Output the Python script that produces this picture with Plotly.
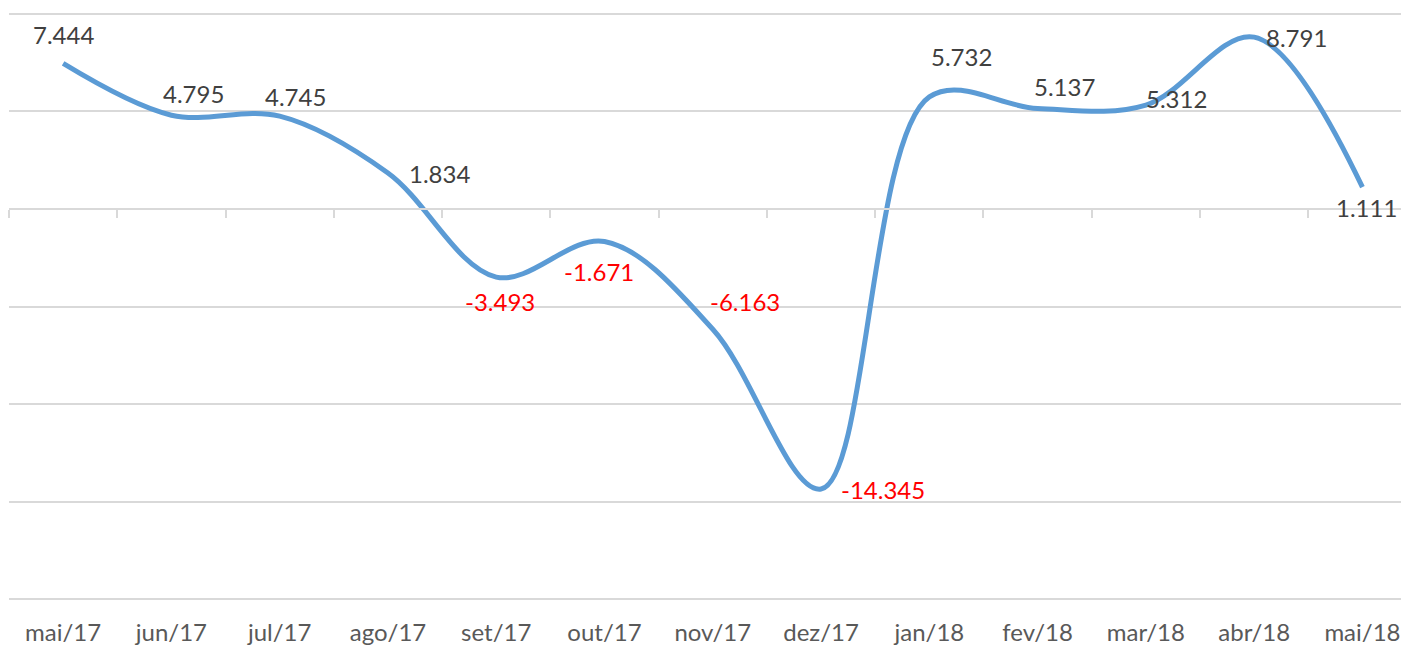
import plotly.graph_objects as go

categories = ["mai/17", "jun/17", "jul/17", "ago/17", "set/17", "out/17", "nov/17",
              "dez/17", "jan/18", "fev/18", "mar/18", "abr/18", "mai/18"]
values = [7.444, 4.795, 4.745, 1.834, -3.493, -1.671, -6.163,
          -14.345, 5.732, 5.137, 5.312, 8.791, 1.111]
# label offsets in pixels (dx, dy) relative to each point
label_dx = [0, 22, 16, 52, 4, -6, 32, 62, 32, 27, 31, 42, 4]
label_dy = [-29, -22, -20, 0, 24, 30, -28, 0, -40, -22, -7, 0, 20]

idx = list(range(len(categories)))
FONT = "Lato"

fig = go.Figure()
fig.add_trace(go.Scatter(
    x=idx, y=values, mode="lines",
    line=dict(color="#5B9BD5", width=5, shape="spline", smoothing=1),
    hoverinfo="skip", showlegend=False,
))
# invisible trace to bring the tick axis at zero to life
fig.add_trace(go.Scatter(x=idx, y=[0] * len(idx), xaxis="x2", mode="lines",
                         line=dict(width=0), hoverinfo="skip", showlegend=False))

for i, v in enumerate(values):
    fig.add_annotation(
        x=i, y=v, text=f"{v:.3f}", showarrow=False,
        xshift=label_dx[i], yshift=-label_dy[i],
        font=dict(family=FONT, size=24, color="#FF0000" if v < 0 else "#404040"),
    )

n = len(categories)
ymin, ymax, pad = -20, 10, 0.08
# the page body adds an 8px offset; the figure is sized to fit the window
fig.update_layout(
    width=1401, height=638,
    margin=dict(l=1, r=0, t=4, b=45),
    paper_bgcolor="white", plot_bgcolor="white",
    xaxis=dict(
        range=[-0.5, n - 0.57], tickvals=idx, ticktext=categories,
        showgrid=False, zeroline=False, showline=False, ticks="",
        tickfont=dict(family=FONT, size=24, color="#595959"),
        ticklabelstandoff=15,
    ),
    xaxis2=dict(
        overlaying="x", matches="x", anchor="free",
        position=(0 - (ymin - pad)) / ((ymax + pad) - (ymin - pad)),
        tickvals=[i - 0.5 for i in range(n + 1)], showticklabels=False,
        ticks="outside", ticklen=8, tickwidth=1.5, tickcolor="#D9D9D9",
        showline=True, linecolor="#D9D9D9", linewidth=2,
        showgrid=False, zeroline=False,
    ),
    yaxis=dict(
        range=[ymin - pad, ymax + pad], tickvals=[-20, -15, -10, -5, 0, 5, 10],
        showticklabels=False,
        showgrid=True, gridcolor="#D9D9D9", gridwidth=1.5,
        zeroline=False, showline=False, ticks="",
    ),
)

fig.write_html("out.html")
